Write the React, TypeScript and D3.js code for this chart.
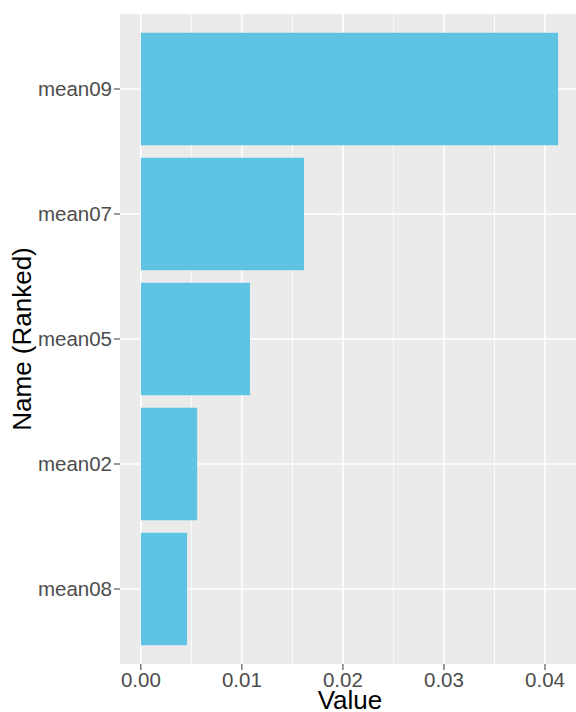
import React from "react";
import * as d3 from "d3";

const names = ["mean09", "mean07", "mean05", "mean02", "mean08"];
const values = [0.0413, 0.01615, 0.0108, 0.00557, 0.00457];
const xTicks = [0, 0.01, 0.02, 0.03, 0.04];
const xMinor = [0.005, 0.015, 0.025, 0.035];

const W = 576, H = 712;
const panel = { left: 120, top: 14, right: 579, bottom: 664 };

export default function App() {
  const maxV = d3.max(values) as number;
  const pad = maxV * 0.05;
  const x = d3.scaleLinear().domain([-pad, maxV + pad]).range([panel.left, panel.right]);
  const n = names.length;
  const unit = (panel.bottom - panel.top) / (n - 1 + 1.2);
  const yc = (i: number) => panel.top + unit * (0.6 + i);
  const bw = unit * 0.9;
  const font = "'Liberation Sans', Arial, sans-serif";
  return (
    <svg width={W} height={H} style={{ position: "fixed", left: 0, top: 0 }} fontFamily={font}>
      <rect x={0} y={0} width={W} height={H} fill="#fff" />
      <clipPath id="pc">
        <rect x={panel.left} y={panel.top} width={W - panel.left} height={panel.bottom - panel.top} />
      </clipPath>
      <g clipPath="url(#pc)">
        <rect x={panel.left} y={panel.top} width={panel.right - panel.left} height={panel.bottom - panel.top} fill="#EBEBEB" />
        {xMinor.map((t) => (
          <line key={"m" + t} x1={x(t)} x2={x(t)} y1={panel.top} y2={panel.bottom} stroke="#fff" strokeWidth={0.8} />
        ))}
        {xTicks.map((t) => (
          <line key={"g" + t} x1={x(t)} x2={x(t)} y1={panel.top} y2={panel.bottom} stroke="#fff" strokeWidth={1.6} />
        ))}
        {names.map((nm, i) => (
          <line key={"h" + nm} x1={panel.left} x2={panel.right} y1={yc(i)} y2={yc(i)} stroke="#fff" strokeWidth={1.6} />
        ))}
        {names.map((nm, i) => (
          <rect key={"b" + nm} x={x(0)} y={yc(i) - bw / 2} width={x(values[i]) - x(0)} height={bw} fill="#5FC4E3" />
        ))}
      </g>
      {names.map((nm, i) => (
        <g key={"yt" + nm}>
          <line x1={panel.left - 6} x2={panel.left} y1={yc(i)} y2={yc(i)} stroke="#333" strokeWidth={1} />
          <text x={panel.left - 8} y={yc(i)} dy="0.35em" textAnchor="end" fontSize={20.5} fill="#4D4D4D">{nm}</text>
        </g>
      ))}
      {xTicks.map((t) => (
        <g key={"xt" + t}>
          <line x1={x(t)} x2={x(t)} y1={panel.bottom} y2={panel.bottom + 6} stroke="#333" strokeWidth={1} />
          <text x={x(t)} y={panel.bottom + 23} textAnchor="middle" fontSize={20.5} fill="#4D4D4D">{d3.format(".2f")(t)}</text>
        </g>
      ))}
      <text x={(panel.left + W) / 2 + 2} y={709} textAnchor="middle" fontSize={26} fill="#000">Value</text>
      <text transform={`translate(31,${(panel.top + panel.bottom) / 2}) rotate(-90)`} textAnchor="middle" fontSize={26} fill="#000">Name (Ranked)</text>
    </svg>
  );
}
